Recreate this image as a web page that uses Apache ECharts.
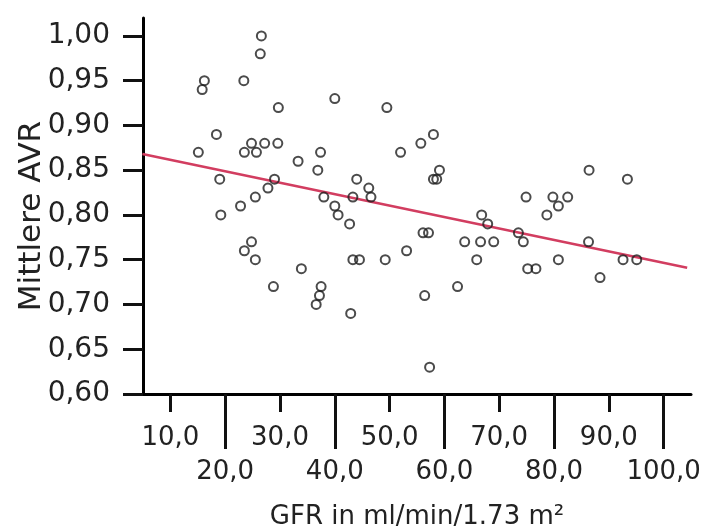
<!DOCTYPE html>
<html>
<head>
<meta charset="utf-8">
<script src="https://cdn.jsdelivr.net/npm/echarts@6/dist/echarts.min.js"></script>
<style>
  html, body { margin: 0; padding: 0; background: #fff; }
  #chart { width: 704px; height: 528px; }
</style>
</head>
<body>
<div id="chart"></div>
<script>
// GFR (ml/min/1.73 m²) per patient
const gfr = [
  26.6, 26.4, 16.2, 15.8, 23.4, 29.7, 40.0, 49.5, 18.4, 15.1,
  24.8, 27.2, 29.6, 23.5, 25.7, 37.4, 52.0, 55.7, 58.0, 33.3,
  36.9, 19.0, 29.0, 44.0, 46.2, 27.8, 25.5, 22.8, 19.2, 38.0,
  43.3, 46.6, 40.0, 40.6, 42.7, 59.1, 58.6, 58.0, 24.8, 23.5,
  25.5, 33.9, 28.8, 37.5, 37.2, 36.6, 42.9, 43.3, 44.5, 49.2,
  53.1, 56.1, 57.1, 56.4, 57.3, 62.4, 63.7, 66.6, 69.0, 65.9,
  66.8, 67.9, 73.5, 74.4, 74.9, 79.8, 82.5, 80.8, 78.7, 86.4,
  93.4, 75.2, 76.7, 80.8, 86.3, 88.4, 92.6, 95.1
];
// mean AVR for the same patients
const avr = [
  1.00, 0.98, 0.95, 0.94, 0.95, 0.92, 0.93, 0.92, 0.89, 0.87,
  0.88, 0.88, 0.88, 0.87, 0.87, 0.87, 0.87, 0.88, 0.89, 0.86,
  0.85, 0.84, 0.84, 0.84, 0.83, 0.83, 0.82, 0.81, 0.80, 0.82,
  0.82, 0.82, 0.81, 0.80, 0.79, 0.85, 0.84, 0.84, 0.77, 0.76,
  0.75, 0.74, 0.72, 0.72, 0.71, 0.70, 0.69, 0.75, 0.75, 0.75,
  0.76, 0.78, 0.78, 0.71, 0.63, 0.72, 0.77, 0.77, 0.77, 0.75,
  0.80, 0.79, 0.78, 0.77, 0.82, 0.82, 0.82, 0.81, 0.80, 0.85,
  0.84, 0.74, 0.74, 0.75, 0.77, 0.73, 0.75, 0.75
];
// linear fit line end points
const fitX = [4.9, 104.3];
const fitY = [0.868, 0.741];
// tick positions: short ticks with the upper label row, long ticks with the lower row
const xTicksUpper = [10, 30, 50, 70, 90];
const xTicksLower = [20, 40, 60, 80, 100];

const FONT = '"DejaVu Sans", sans-serif';
const TXT = '#222';
const fmtX = v => Number(v).toFixed(1).replace('.', ',');
const fmtY = v => Number(v).toFixed(2).replace('.', ',');

const points = gfr.map((g, i) => [g, avr[i]]);
const fitLine = fitX.map((x, i) => [x, fitY[i]]);

const chart = echarts.init(document.getElementById('chart'), null, { renderer: 'canvas' });
chart.setOption({
  backgroundColor: '#fff',
  animation: false,
  grid: { left: 143, right: 13, top: 18, bottom: 134, containLabel: false, outerBoundsMode: 'none' },
  xAxis: [
    {
      type: 'value', min: 5, max: 105, position: 'bottom',
      axisLine: { show: true, onZero: false, lineStyle: { color: '#000', width: 3 } },
      axisTick: { show: true, customValues: xTicksUpper, length: 18, lineStyle: { color: '#111', width: 3 } },
      axisLabel: { customValues: xTicksUpper, formatter: fmtX, margin: 31, color: TXT, fontFamily: FONT, fontSize: 26 },
      splitLine: { show: false }
    },
    {
      type: 'value', min: 5, max: 105, position: 'bottom',
      axisLine: { show: false, onZero: false },
      axisTick: { show: true, customValues: xTicksLower, length: 55, lineStyle: { color: '#111', width: 3 } },
      axisLabel: { customValues: xTicksLower, formatter: fmtX, margin: 65, color: TXT, fontFamily: FONT, fontSize: 26 },
      splitLine: { show: false },
      name: 'GFR in ml/min/1.73 m²', nameLocation: 'middle', nameGap: 110, nameMoveOverlap: false,
      nameTextStyle: { color: TXT, fontFamily: FONT, fontSize: 26 }
    }
  ],
  yAxis: {
    type: 'value', min: 0.6, max: 1.02, interval: 0.05,
    axisLine: { show: true, onZero: false, lineStyle: { color: '#000', width: 3 } },
    axisTick: { show: true, length: 20, lineStyle: { color: '#111', width: 3 } },
    axisLabel: { formatter: fmtY, margin: 33, color: TXT, fontFamily: FONT, fontSize: 28 },
    splitLine: { show: false },
    name: 'Mittlere AVR', nameLocation: 'middle', nameGap: 96, nameRotate: 90, nameMoveOverlap: false,
    nameTextStyle: { color: TXT, fontFamily: FONT, fontSize: 31, padding: [0, 20, 0, 0] }
  },
  series: [
    {
      type: 'line', data: fitLine, xAxisIndex: 0, symbol: 'none', z: 2,
      lineStyle: { color: '#d23d60', width: 2.5 }
    },
    {
      type: 'scatter', data: points, xAxisIndex: 0, symbol: 'circle', symbolSize: 9, z: 3,
      itemStyle: { color: 'rgba(255,255,255,0)', borderColor: '#1e1e1e', borderWidth: 2 }
    }
  ]
});
</script>
</body>
</html>
